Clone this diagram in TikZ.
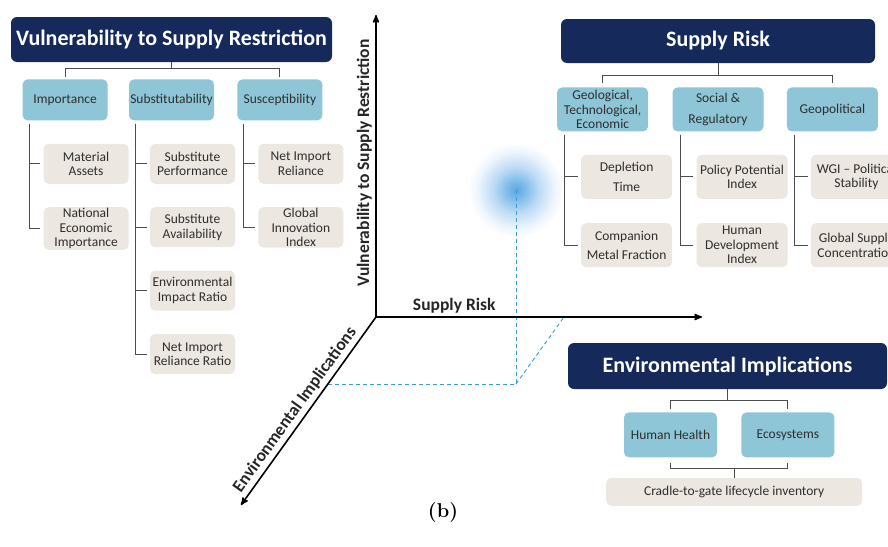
\documentclass[tikz,border=0pt]{standalone}
\usepackage{fontspec}
\newfontfamily\carlito{Carlito}
\usepackage{tikz}
\usetikzlibrary{arrows,positioning}

\definecolor{navy}{HTML}{15295B}
\definecolor{skyb}{HTML}{8EC6D7}
\definecolor{sand}{HTML}{ECE7E1}
\definecolor{inkgray}{HTML}{2E2E2E}
\definecolor{guideblue}{HTML}{3A9FCB}
\pgfdeclareradialshading{glow}{\pgfpoint{0bp}{0bp}}{rgb(0bp)=(0.36,0.65,0.88); rgb(5bp)=(0.5,0.74,0.92); rgb(12bp)=(0.74,0.86,0.96); rgb(20bp)=(0.93,0.96,0.99); rgb(25bp)=(1,1,1); rgb(50bp)=(1,1,1)}

\begin{document}
\begin{tikzpicture}[x=1pt,y=1pt,node distance=23pt,
                    title box/.style={rectangle,rounded corners=6pt,fill=navy,text=white,inner sep=0pt,font=\carlito\bfseries\fontsize{22}{25}\selectfont},
                    cat box/.style={rectangle,rounded corners=5pt,fill=skyb,text=inkgray,inner sep=1pt,align=center,minimum width=85pt,minimum height=41pt,font=\carlito\fontsize{13.5}{14.5}\selectfont},
                    item box/.style={cat box,fill=sand,minimum height=40pt},
                    wide/.style={minimum width=91pt,minimum height=44pt},
                    tree/.style={draw=inkgray!85,line width=0.9pt},
                    axis/.style={->,>=stealth',line width=1.6pt},
                    axis label/.style={font=\carlito\bfseries\fontsize{17.5}{20}\selectfont,text=black!85},
                    guide/.style={draw=guideblue,dashed,dash pattern=on 4pt off 3pt,line width=0.9pt}]

  \useasboundingbox (0,0) rectangle (888,-546);
  \clip (0,0) rectangle (888,-546);

%  vulnerability to supply restriction
  \node[title box, minimum width=321pt, minimum height=45pt] (vsr) at (171.5,-39.5) {Vulnerability to Supply Restriction};
  \node[cat box] [below = 17pt of vsr] (subst) {Substitutability};
  \node[cat box] [left = 21pt of subst] (impo) {Importance};
  \node[cat box] [right = 23pt of subst] (susc) {Susceptibility};
  \node[item box] [below = 23pt of impo.south, xshift=21pt] (matas) {Material\\Assets};
  \node[item box] [below = of matas] (natec) {National\\Economic\\Importance};
  \node[item box] [below = 23pt of subst.south, xshift=21pt] (subperf) {Substitute\\Performance};
  \node[item box] [below = of subperf] (subav) {Substitute\\Availability};
  \node[item box] [below = of subav] (envrat) {Environmental\\Impact Ratio};
  \node[item box] [below = of envrat] (netrr) {Net Import\\Reliance Ratio};
  \node[item box] [below = 23pt of susc.south, xshift=21pt] (netir) {Net Import\\Reliance};
  \node[item box] [below = of netir] (glinn) {Global\\Innovation\\Index};

\draw[tree] (vsr.south) -- ++(0,-6) -| ([yshift=2pt]impo.north);
\draw[tree] (vsr.south) -- ++(0,-6) -| ([yshift=2pt]susc.north);
\foreach \k in {matas,natec}
  \draw[tree,shorten >=3pt] ([xshift=7pt,yshift=-3pt]impo.south west) |- (\k.west);
\foreach \k in {subperf,subav,envrat,netrr}
  \draw[tree,shorten >=3pt] ([xshift=7pt,yshift=-3pt]subst.south west) |- (\k.west);
\foreach \k in {netir,glinn}
  \draw[tree,shorten >=3pt] ([xshift=6pt,yshift=-3pt]susc.south west) |- (\k.west);

%  supply risk
  \node[title box, minimum width=314pt, minimum height=44pt] (srisk) at (718,-41) {Supply Risk};
  \node[cat box, wide] [below = 24pt of srisk] (socreg) {Social \&\\[6pt]Regulatory};
  \node[cat box, wide] [left = 24pt of socreg] (geotec) {Geological,\\Technological,\\Economic};
  \node[cat box, wide] [right = 23pt of socreg] (geopol) {Geopolitical};
  \node[item box, wide] [below = 23pt of geotec.south, xshift=24pt] (depl) {Depletion\\[6pt]Time};
  \node[item box, wide] [below = 24pt of depl] (compm) {Companion\\[5pt]Metal Fraction};
  \node[item box, wide] [below = 23pt of socreg.south, xshift=24pt] (polpot) {Policy Potential\\Index};
  \node[item box, wide] [below = 24pt of polpot] (humdev) {Human\\Development\\Index};
  \node[item box, wide] [below = 23pt of geopol.south, xshift=24pt] (wgi) {WGI – Political\\Stability};
  \node[item box, wide] [below = 24pt of wgi] (glsup) {Global Supply\\Concentration};

\draw[tree] (srisk.south) -- ++(0,-12) -| ([yshift=4pt]geotec.north);
\draw[tree] (srisk.south) -- ++(0,-12) -| ([yshift=4pt]geopol.north);
\foreach \k in {depl,compm}
  \draw[tree,shorten >=3pt] ([xshift=8pt,yshift=-3pt]geotec.south west) |- (\k.west);
\foreach \k in {polpot,humdev}
  \draw[tree,shorten >=3pt] ([xshift=8pt,yshift=-3pt]socreg.south west) |- (\k.west);
\foreach \k in {wgi,glsup}
  \draw[tree,shorten >=3pt] ([xshift=8pt,yshift=-3pt]geopol.south west) |- (\k.west);

%  environmental implications
  \node[title box, minimum width=319pt, minimum height=46pt] (envimp) at (727.5,-366) {Environmental Implications};
  \node[cat box, minimum width=93pt, minimum height=45pt] [below = 23pt of envimp.south, xshift=-57pt] (hh) {Human Health};
  \node[cat box, minimum width=93pt, minimum height=45pt] [right = 24pt of hh] (eco) {Ecosystems};
  \node[item box, minimum width=256pt, minimum height=28pt] [below = 20pt of hh.south east, xshift=17pt] (cradle) {Cradle-to-gate lifecycle inventory};

\draw[tree] (envimp.south) -- ++(0,-11) -| ([yshift=3pt]hh.north);
\draw[tree] (envimp.south) -- ++(0,-11) -| ([yshift=3pt]eco.north);
\draw[tree] ([yshift=-5pt]hh.south) -- ++(0,-6) -| ([yshift=-5pt]eco.south);
\draw[tree] (cradle.north) -- ++(0,9);

%  the point and its projections
  \coordinate (bub) at (516,-190);
  \coordinate (bfoot) at (516,-384);
  \coordinate (zfoot) at (327,-384);
  \coordinate (xfoot) at (564,-317);
  \shade[shading=glow] (bub) circle (48pt);
\draw[guide] (bub) -- (bfoot) -- (zfoot);
\draw[guide] (bfoot) -- (xfoot);

%  axes
  \coordinate (o) at (376,-317);
  \coordinate (vtip) at (376,-15);
  \coordinate (htip) at (702,-317);
  \coordinate (ztip) at (241,-505);
\draw[axis] (o) -- node[axis label, sloped, above, pos=0.51] {Vulnerability to Supply Restriction} (vtip);
\draw[axis] (o) -- node[axis label, above, pos=0.24] {Supply Risk} (htip);
\draw[axis,<-] (ztip) -- node[axis label, sloped, above, pos=0.47] {Environmental Implications} (o);

  \node[font=\bfseries\fontsize{20}{24}\selectfont] (cap) at (443,-513) {(b)};

\end{tikzpicture}
\end{document}
